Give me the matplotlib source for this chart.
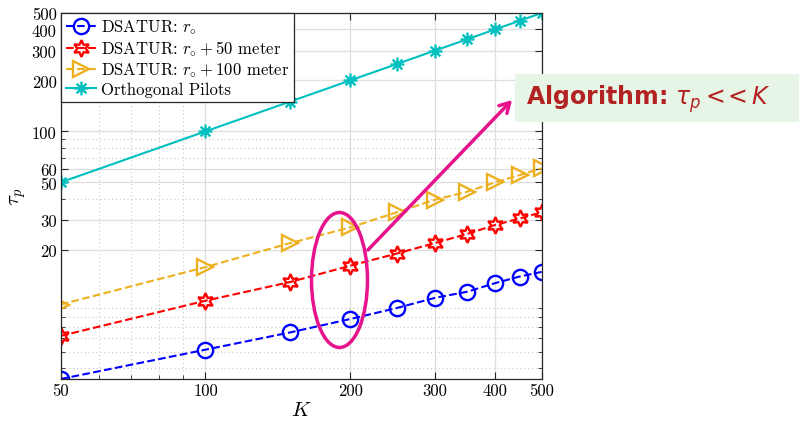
import numpy as np
import matplotlib
matplotlib.use("Agg")
import matplotlib.pyplot as plt
from matplotlib.path import Path
from matplotlib.patches import Ellipse, FancyArrowPatch, Rectangle
from matplotlib.ticker import FixedLocator, NullFormatter, LogLocator, FixedFormatter

plt.rcParams['font.family'] = ['cmr10', 'DejaVu Serif']
plt.rcParams['mathtext.fontset'] = 'cm'
plt.rcParams['axes.unicode_minus'] = False

K = [50, 100, 150, 200, 250, 300, 350, 400, 450, 500]
dsatur_r0 = [3.45, 5.14, 6.5, 7.8, 9.06, 10.4, 11.3, 12.7, 13.9, 14.8]
dsatur_r50 = [6.2, 10.0, 12.9, 16.1, 19.0, 21.9, 24.8, 28.0, 30.6, 33.3]
dsatur_r100 = [9.5, 15.8, 21.9, 27.1, 33.3, 39.5, 44.0, 50.0, 55.2, 60.5]
orthogonal = [50, 100, 150, 200, 250, 300, 350, 400, 450, 500]

xticks = [50, 100, 200, 300, 400, 500]
yticks = [20, 30, 50, 60, 100, 200, 300, 400, 500]

labels = [r'DSATUR: $r_{\circ}$', r'DSATUR: $r_{\circ}+50$ meter',
          r'DSATUR: $r_{\circ}+100$ meter', 'Orthogonal Pilots']

# asterisk marker (MATLAB style)
ast = Path([(-1, 0), (1, 0), (0, -1), (0, 1), (-0.7, -0.7), (0.7, 0.7), (-0.7, 0.7), (0.7, -0.7)],
           [Path.MOVETO, Path.LINETO] * 4)

fig = plt.figure(figsize=(7.99, 4.27), dpi=100)
ax = fig.add_axes([60.7/799, 1 - 380/427, (541.7-60.7)/799, (380-14)/427])
ax.set_xscale('log')
ax.set_yscale('log')

ax.plot(K, dsatur_r0, '--', color='#0000ff', marker='o', ms=11, mfc='none', mew=1.7, lw=1.5, label=labels[0])
ax.plot(K, dsatur_r50, '--', color='#ff0000', marker=(6, 1, 0), ms=12, mfc='none', mew=1.7, lw=1.5, label=labels[1])
ax.plot(K, dsatur_r100, '--', color='#edb120', marker='>', ms=12, mfc='none', mew=1.7, lw=1.5, label=labels[2])
ax.plot(K, orthogonal, '-', color='#00bfbf', marker=ast, ms=10, mew=1.7, lw=1.5, label=labels[3])

ax.set_xlim(50, 500)
ax.set_ylim(3.45, 500)
ax.xaxis.set_major_locator(FixedLocator(xticks))
ax.xaxis.set_major_formatter(FixedFormatter([str(t) for t in xticks]))
ax.xaxis.set_minor_locator(LogLocator(base=10, subs=np.arange(2, 10)))
ax.xaxis.set_minor_formatter(NullFormatter())
ax.yaxis.set_major_locator(FixedLocator(yticks))
ax.yaxis.set_major_formatter(FixedFormatter([str(t) for t in yticks]))
ax.yaxis.set_minor_locator(LogLocator(base=10, subs=np.arange(2, 10)))
ax.yaxis.set_minor_formatter(NullFormatter())

ax.grid(True, which='major', color='#dedede', lw=0.9, ls='-')
ax.grid(True, which='minor', color='#c8c8c8', lw=0.8, ls=(0, (1, 2.5)))
ax.set_axisbelow(True)
ax.tick_params(which='both', direction='in', top=True, right=True, labelsize=12, color='#262626')
ax.tick_params(which='major', length=5, pad=3)
ax.tick_params(which='minor', length=3)
for s in ax.spines.values():
    s.set_color('#262626')
    s.set_linewidth(0.9)

ax.set_xlabel(r'$K$', fontsize=15, labelpad=2)
ax.set_ylabel(r'$\tau_p$', fontsize=15)
ax.yaxis.set_label_coords(-0.068, 0.5)

leg = ax.legend(loc='upper left', borderaxespad=0, fontsize=12, fancybox=False,
                framealpha=1, edgecolor='#262626', handlelength=1.8, handletextpad=0.3,
                labelspacing=0.15, borderpad=0.3)
leg.get_frame().set_linewidth(0.9)

# annotation: ellipse and arrow
ell = Ellipse((339.5/799, 1 - 281/427), width=56/799, height=135/427, transform=fig.transFigure,
              fill=False, edgecolor='#e6138c', lw=2.5)
fig.patches.append(ell)
arr = FancyArrowPatch((366/799, 1 - 253/427), (514/799, 1 - 99/427), transform=fig.transFigure,
                      arrowstyle='->,head_length=7,head_width=4', color='#e6138c', lw=2.5)
fig.patches.append(arr)

# text box
box = Rectangle((515/799, 1 - 123/427), (799-515)/799, 48/427, transform=fig.transFigure,
                facecolor='#e6f5e6', edgecolor='none')
fig.patches.append(box)
fig.text(526/799, 1 - 99/427, r'Algorithm: $\tau_p <\!\!< K$', fontsize=17, fontweight='bold',
         color='#b22222', family='DejaVu Sans', math_fontfamily='dejavusans',
         va='center', ha='left')

fig.savefig('out.png', dpi=100)
